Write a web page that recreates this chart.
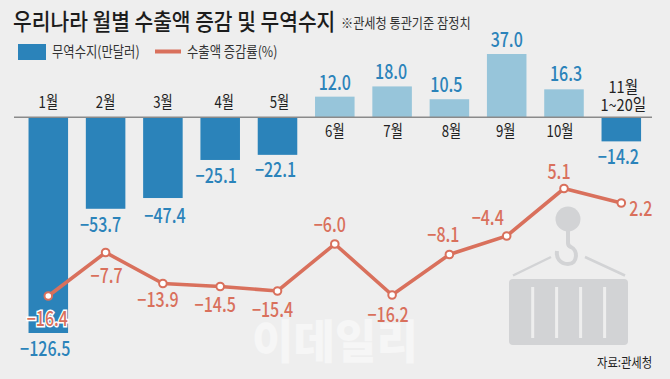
<!DOCTYPE html>
<html>
<head>
<meta charset="utf-8">
<script src="https://cdn.jsdelivr.net/npm/d3@7"></script>
<style>
  html, body { margin: 0; padding: 0; background: #eeeeee; }
  svg { display: block; }
  text { font-family: "Noto Sans CJK KR", "Noto Sans", sans-serif; }
</style>
</head>
<body>
<div id="chart"></div>
<script>
// Data
var months = ['1월', '2월', '3월', '4월', '5월', '6월', '7월', '8월', '9월', '10월', '11월']
var balance = [-126.5, -53.7, -47.4, -25.1, -22.1, 12.0, 18.0, 10.5, 37.0, 16.3, -14.2]
var exportGrowth = [-16.4, -7.7, -13.9, -14.5, -15.4, -6.0, -16.2, -8.1, -4.4, 5.1, 2.2]

// Hand placed label nudges, [dx, dy] from the default spot
var balanceNudge = [[-3, 0], [-5, 0], [2, 2], [-4, 0], [-2, -1], [0, 0], [-1, 0], [-3, 0], [0, 0], [2, -1], [-3, 0]]
var growthNudge = [-1, 1, -5, -5, -5, -5, -4, -6, -19, -5, 19.5]
var growthLabelY = [326, 282.7, 307.3, 311.7, 316.7, 231.7, 322.3, 241.7, 225, 179, 215.7]
var monthNudge = [0, 0, 0, 4, 2, 0, 1, 2, -1, -4, 0]

var width = 670
var height = 379

var svg = d3
  .select('#chart')
  .append('svg')
  .attr('width', width)
  .attr('height', height)

var xPositionScale = d3
  .scaleBand()
  .domain(months)
  .range([19.65, 649.95])
  .paddingInner(0.31)
  .paddingOuter(0.155)

var yBalanceScale = d3
  .scaleLinear()
  .domain([-126.5, 37])
  .range([333, 54])

var yGrowthScale = d3
  .scaleLinear()
  .domain([-16.4, 5.1])
  .range([296, 188.5])

var darkBlue = '#2b83ba'
var lightBlue = '#97c5da'
var red = '#d9705c'
var iconGrey = '#d2d3d5'
var inkDark = '#222222'

function fmt(v) {
  return (v < 0 ? '−' : '') + Math.abs(v).toFixed(1)
}

// text squeezed horizontally, the original type is a condensed face
function put(str, x, y, size, color, opts) {
  opts = opts || {}
  var sx = opts.sx || 0.8
  return svg
    .append('text')
    .text(str)
    .attr('transform', 'translate(' + x + ',' + y + ') scale(' + sx + ',1)')
    .attr('text-anchor', opts.anchor || 'middle')
    .attr('font-size', size)
    .attr('font-weight', opts.weight || 400)
    .attr('fill', color)
}

function cx(i) {
  return xPositionScale(months[i]) + xPositionScale.bandwidth() / 2
}

// Watermark
put('이데일리', 335, 358, 46, '#f6f6f6', { weight: 900, sx: 0.98 })

// Container icon
var icon = svg.append('g').attr('class', 'icon')
icon.append('circle').attr('cx', 568).attr('cy', 219).attr('r', 12.5).attr('fill', iconGrey)
icon
  .append('path')
  .attr('d', 'M568 230 V243 Q568 246 571 247 C578 250 578 264 568 264 C560 264 556 258 557 251')
  .attr('fill', 'none')
  .attr('stroke', iconGrey)
  .attr('stroke-width', 4)
icon
  .append('path')
  .attr('d', 'M513 275.5 L551 257 M585 257 L625 275.5')
  .attr('stroke', iconGrey)
  .attr('stroke-width', 2.5)
icon
  .append('rect')
  .attr('x', 509)
  .attr('y', 279)
  .attr('width', 119)
  .attr('height', 66)
  .attr('rx', 4)
  .attr('fill', iconGrey)
icon
  .selectAll('.slot')
  .data([532.7, 556.6, 580.6, 604.6])
  .enter()
  .append('rect')
  .attr('class', 'slot')
  .attr('x', d => d - 1.5)
  .attr('y', 287)
  .attr('width', 3)
  .attr('height', 51)
  .attr('fill', '#eeeeee')

// Bars
svg
  .selectAll('.bar')
  .data(balance)
  .enter()
  .append('rect')
  .attr('class', 'bar')
  .attr('x', (d, i) => xPositionScale(months[i]))
  .attr('width', xPositionScale.bandwidth())
  .attr('y', d => yBalanceScale(Math.max(d, 0)))
  .attr('height', d => Math.abs(yBalanceScale(d) - yBalanceScale(0)))
  .attr('fill', d => (d > 0 ? lightBlue : darkBlue))

// Baseline
svg
  .append('line')
  .attr('x1', 14)
  .attr('x2', 652)
  .attr('y1', yBalanceScale(0))
  .attr('y2', yBalanceScale(0))
  .attr('stroke', '#8a8a8a')
  .attr('stroke-width', 1.5)

// Bar value labels
balance.forEach((d, i) => {
  var y = d < 0 ? yBalanceScale(d) + 23 : yBalanceScale(d) - 7
  put(fmt(d), cx(i) + balanceNudge[i][0], y + balanceNudge[i][1], 20, darkBlue, { weight: 500 })
})

// Month labels, the last one is two lines in one text
months.forEach((m, i) => {
  if (i === 10) {
    var last = put('', cx(i) + 2, 92.5, 16.5, inkDark, { sx: 0.88 })
    last.append('tspan').attr('x', 0).attr('y', 0).text(m)
    last.append('tspan').attr('x', 0).attr('y', 18).text('1~20일')
  } else {
    var y = balance[i] < 0 ? yBalanceScale(0) - 9.5 : yBalanceScale(0) + 20
    put(m, cx(i) + monthNudge[i], y, 16.5, inkDark)
  }
})

// Growth line
var line = d3
  .line()
  .x((d, i) => cx(i))
  .y(d => yGrowthScale(d))

svg
  .append('path')
  .datum(exportGrowth)
  .attr('d', line)
  .attr('fill', 'none')
  .attr('stroke', red)
  .attr('stroke-width', 3.6)

svg
  .selectAll('.dot')
  .data(exportGrowth)
  .enter()
  .append('circle')
  .attr('class', 'dot')
  .attr('cx', (d, i) => cx(i))
  .attr('cy', d => yGrowthScale(d))
  .attr('r', 3.8)
  .attr('fill', '#ffffff')
  .attr('stroke', red)
  .attr('stroke-width', 2)

// Growth labels
exportGrowth.forEach((d, i) => {
  var t = put(fmt(d), cx(i) + growthNudge[i], growthLabelY[i], 20, red, { weight: 500 })
  if (i === 0) {
    t.attr('stroke', '#ffffff').attr('stroke-width', 3).attr('paint-order', 'stroke')
  }
})

// Title and notes
put('우리나라 월별 수출액 증감 및 무역수지', 13, 30, 23, '#1c1c1c', { anchor: 'start', weight: 500, sx: 0.885 })
put('※관세청 통관기준 잠정치', 341, 28, 14, '#333333', { anchor: 'start', sx: 0.87 })

// Legend
svg.append('rect').attr('x', 18).attr('y', 44).attr('width', 28).attr('height', 16).attr('fill', darkBlue)
put('무역수지(만달러)', 52, 57, 14.5, '#333333', { anchor: 'start', sx: 0.85 })
svg
  .append('line')
  .attr('x1', 155)
  .attr('x2', 181)
  .attr('y1', 51.5)
  .attr('y2', 51.5)
  .attr('stroke', red)
  .attr('stroke-width', 4)
put('수출액 증감률(%)', 187, 57, 14.5, '#333333', { anchor: 'start', sx: 0.85 })

put('자료:관세청', 597, 366.5, 13, '#222222', { anchor: 'start', sx: 0.87 })
</script>
</body>
</html>
